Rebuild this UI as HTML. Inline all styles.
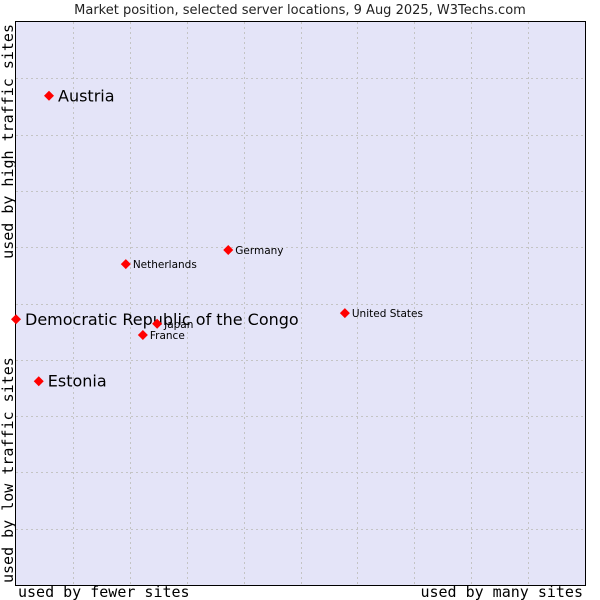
<!DOCTYPE html>
<html><head><meta charset="utf-8"><style>
body{margin:0;background:#fff;width:600px;height:600px;overflow:hidden}
svg{display:block}
</style></head><body>
<svg width="600" height="600">
<text x="300" y="14" text-anchor="middle" font-family="DejaVu Sans, sans-serif" font-size="13" fill="#222">Market position, selected server locations, 9 Aug 2025, W3Techs.com</text>
<rect x="15.5" y="21.5" width="570" height="564" fill="#e4e4f8" stroke="#000" stroke-width="1"/>
<g id="grid"></g>
<g id="marks"></g>
<text x="18" y="597" font-family="DejaVu Sans Mono, monospace" font-size="15" fill="#000">used by fewer sites</text>
<text x="583" y="597" text-anchor="end" font-family="DejaVu Sans Mono, monospace" font-size="15" fill="#000">used by many sites</text>
<text transform="translate(13,583) rotate(-90)" font-family="DejaVu Sans Mono, monospace" font-size="15" fill="#000">used by low traffic sites</text>
<text transform="translate(13,24) rotate(-90)" text-anchor="end" font-family="DejaVu Sans Mono, monospace" font-size="15" fill="#000">used by high traffic sites</text>
</svg>
<script>
const countries=["Austria","Democratic Republic of the Congo","Estonia","Netherlands","Germany","United States","Japan","France"];
const xValues=[5.8,0,4.0,19.3,37.3,57.8,24.8,22.3];
const yValues=[86.9,47.2,36.2,57.0,59.5,48.3,46.4,44.4];
const highlighted=[true,true,true,false,false,false,false,false];
const X0=16,X1=585,Y0=585,Y1=22;
const sx=v=>X0+v/100*(X1-X0);
const sy=v=>Y0-v/100*(Y0-Y1);
const NS="http://www.w3.org/2000/svg";
const grid=document.getElementById('grid');
for(let i=1;i<10;i++){
 const l=document.createElementNS(NS,'line');
 const x=Math.round(sx(i*10))+0.5;
 l.setAttribute('x1',x);l.setAttribute('x2',x);l.setAttribute('y1',22);l.setAttribute('y2',585);
 l.setAttribute('stroke','#c4c4c4');l.setAttribute('stroke-dasharray','2,3');
 
 
 grid.appendChild(l);
 const h=document.createElementNS(NS,'line');
 const y=Math.round(sy(i*10))+0.5;
 h.setAttribute('x1',16);h.setAttribute('x2',585);h.setAttribute('y1',y);h.setAttribute('y2',y);
 h.setAttribute('stroke','#c4c4c4');h.setAttribute('stroke-dasharray','2,3');
 
 
 grid.appendChild(h);
}
const marks=document.getElementById('marks');
countries.forEach((c,i)=>{
 const x=sx(xValues[i]),y=sy(yValues[i]);
 const p=document.createElementNS(NS,'path');
 p.setAttribute('d',`M${x} ${y-5}L${x+5} ${y}L${x} ${y+5}L${x-5} ${y}Z`);
 p.setAttribute('fill','#f00');
 
 
 marks.appendChild(p);
 const t=document.createElementNS(NS,'text');
 const big=highlighted[i];
 t.setAttribute('x',x+(big?9:7));
 t.setAttribute('y',y+(big?5.5:4));
 t.setAttribute('font-family','DejaVu Sans, sans-serif');
 t.setAttribute('font-size',big?16:10.5);
 t.setAttribute('fill','#000');
 t.textContent=c;
 
 
 marks.appendChild(t);
});
</script>
</body></html>
